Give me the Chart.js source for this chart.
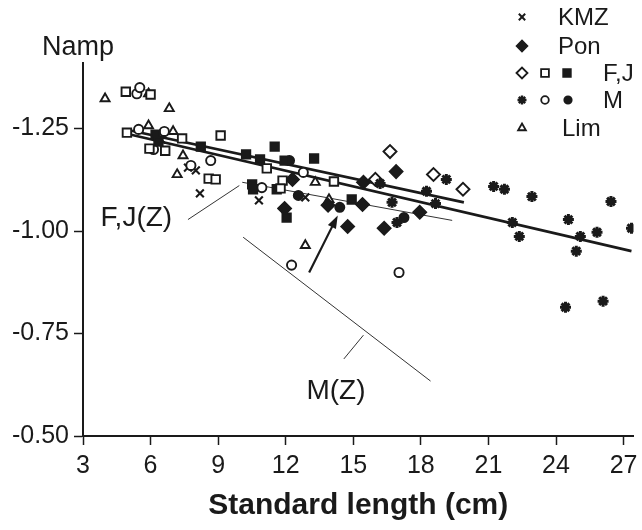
<!DOCTYPE html>
<html>
<head>
<meta charset="utf-8">
<script src="https://cdn.jsdelivr.net/npm/chart.js@4.4.1/dist/chart.umd.min.js"></script>
<style>
  html, body { margin: 0; padding: 0; background: #fff; }
  #wrap { width: 642px; height: 530px; }
</style>
</head>
<body>
<div id="wrap"><canvas id="chart" width="642" height="530"></canvas></div>
<script>
// axis ticks
const xTicks = [3, 6, 9, 12, 15, 18, 21, 24, 27];
const yTicks = [-1.25, -1.00, -0.75, -0.50];

// standard length (cm) and Namp
const kmzX = [6.48, 7.66, 8.01, 8.19, 10.81, 12.87];
const kmzY = [-1.223, -1.155, -1.148, -1.092, -1.075, -1.082];

const ponX = [12.30, 11.95, 13.88, 14.75, 15.41, 15.45, 16.37, 16.90, 17.95];
const ponY = [-1.126, -1.055, -1.063, -1.011, -1.065, -1.119, -1.007, -1.145, -1.046];

const fjDiaX = [15.98, 16.63, 18.56, 19.87];
const fjDiaY = [-1.126, -1.194, -1.138, -1.102];

const fjSqX = [4.90, 6.00, 4.95, 7.40, 5.95, 6.65, 8.58, 8.89, 9.11, 11.16, 11.86, 11.77, 14.14];
const fjSqY = [-1.340, -1.333, -1.240, -1.226, -1.201, -1.196, -1.128, -1.126, -1.233, -1.153, -1.123, -1.104, -1.121];

const fjFillX = [6.22, 6.35, 8.23, 10.24, 10.86, 11.51, 11.95, 13.26, 10.51, 10.55, 11.60, 12.04, 14.93];
const fjFillY = [-1.235, -1.218, -1.206, -1.187, -1.175, -1.206, -1.172, -1.177, -1.114, -1.102, -1.102, -1.033, -1.077];

const mStarX = [16.19, 16.72, 16.94, 18.25, 18.65, 19.13, 21.23, 21.71, 22.93, 22.06, 22.37, 24.55, 25.08, 25.82, 24.90, 26.44, 27.35, 24.42, 26.09];
const mStarY = [-1.116, -1.070, -1.021, -1.097, -1.067, -1.126, -1.109, -1.102, -1.084, -1.021, -0.987, -1.028, -0.987, -0.997, -0.951, -1.072, -1.007, -0.814, -0.829];

const mOpenX = [5.39, 5.52, 5.47, 6.61, 6.13, 7.79, 8.67, 10.94, 12.78, 12.26, 17.03];
const mOpenY = [-1.335, -1.350, -1.248, -1.243, -1.199, -1.160, -1.172, -1.106, -1.143, -0.917, -0.899];

const mFillX = [12.17, 12.56, 14.40, 17.25];
const mFillY = [-1.172, -1.087, -1.058, -1.033];

const limX = [3.98, 5.91, 6.83, 5.91, 7.00, 7.44, 7.18, 13.31, 13.92, 12.87];
const limY = [-1.323, -1.335, -1.299, -1.257, -1.243, -1.184, -1.138, -1.119, -1.077, -0.965];

// fitted lines (end points)
const longLineX = [4.90, 27.35];
const longLineY = [-1.238, -0.951];
const shortLineX = [4.90, 19.91];
const shortLineY = [-1.248, -1.070];
const fjzLineX = [10.07, 19.39];
const fjzLineY = [-1.119, -1.026];
const mzLineX = [10.11, 18.43];
const mzLineY = [-0.985, -0.634];

const ink = '#1a1a1a';
const font = 'Liberation Sans, Arial, Helvetica, sans-serif';

const pts = (xs, ys) => xs.map((v, i) => ({ x: v, y: ys[i] }));

function marks(data, style, radius, filled, bw) {
  return {
    data: data,
    pointStyle: style,
    pointRadius: radius,
    pointHoverRadius: radius,
    pointBorderWidth: bw,
    borderColor: ink,
    backgroundColor: filled ? ink : '#fff',
    showLine: false,
    order: 1
  };
}

function fitLine(data, width, color) {
  return {
    data: data,
    showLine: true,
    borderColor: color || ink,
    borderWidth: width,
    pointRadius: 0,
    fill: false,
    order: 5
  };
}

// labels, leader lines and arrow, placed in data units
const notes = {
  id: 'notes',
  afterDatasetsDraw(chart) {
    const { ctx } = chart;
    const sx = chart.scales.x, sy = chart.scales.y;
    const P = (a, b) => [sx.getPixelForValue(a), sy.getPixelForValue(b)];
    ctx.save();
    ctx.strokeStyle = '#333';
    ctx.fillStyle = ink;
    ctx.lineWidth = 1;

    // leader lines
    [[7.66, -1.028, 9.94, -1.111], [14.58, -0.688, 15.45, -0.746]].forEach(l => {
      const a = P(l[0], l[1]), b = P(l[2], l[3]);
      ctx.beginPath();
      ctx.moveTo(a[0], a[1]);
      ctx.lineTo(b[0], b[1]);
      ctx.stroke();
    });

    // arrow
    const t = P(13.04, -0.899), h = P(14.31, -1.038);
    const ang = Math.atan2(h[1] - t[1], h[0] - t[0]);
    ctx.strokeStyle = ink;
    ctx.lineWidth = 2.2;
    ctx.beginPath();
    ctx.moveTo(t[0], t[1]);
    ctx.lineTo(h[0] - 8 * Math.cos(ang), h[1] - 8 * Math.sin(ang));
    ctx.stroke();
    ctx.beginPath();
    ctx.moveTo(h[0], h[1]);
    ctx.lineTo(h[0] - 13 * Math.cos(ang) + 4.5 * Math.sin(ang), h[1] - 13 * Math.sin(ang) - 4.5 * Math.cos(ang));
    ctx.lineTo(h[0] - 13 * Math.cos(ang) - 4.5 * Math.sin(ang), h[1] - 13 * Math.sin(ang) + 4.5 * Math.cos(ang));
    ctx.closePath();
    ctx.fill();

    // group labels
    ctx.font = '28px ' + font;
    ctx.textAlign = 'center';
    ctx.textBaseline = 'middle';
    let p = P(5.37, -1.032);
    ctx.fillText('F,J(Z)', p[0], p[1]);
    p = P(14.23, -0.610);
    ctx.fillText('M(Z)', p[0], p[1]);
    ctx.restore();
  },
  afterDraw(chart) {
    const { ctx } = chart;
    const dp = Chart.helpers.drawPoint;
    ctx.save();
    ctx.fillStyle = ink;
    ctx.font = '27px ' + font;
    ctx.textBaseline = 'alphabetic';
    ctx.fillText('Namp', 42, 55);

    // legend
    const sym = (style, r, filled, x, y, bw) => {
      ctx.lineWidth = bw || 1.6;
      ctx.strokeStyle = ink;
      ctx.fillStyle = filled ? ink : '#fff';
      dp(ctx, { pointStyle: style, radius: r, borderWidth: ctx.lineWidth, rotation: 0 }, x, y);
    };
    sym('crossRot', 4.5, false, 522, 17, 2);
    sym('rectRot', 5.5, true, 522, 46);
    sym('rectRot', 5.5, false, 522, 73, 1.8);
    sym('rect', 5.5, false, 545, 73, 1.8);
    sym('rect', 5.5, true, 567, 73);
    sym('star', 4.5, false, 522, 100, 2.4);
    sym('circle', 3.8, false, 545, 100, 1.8);
    sym('circle', 3.8, true, 568, 100);
    sym('triangle', 4.5, false, 522, 128, 1.8);

    ctx.fillStyle = ink;
    ctx.font = '24px ' + font;
    ctx.textAlign = 'left';
    ctx.textBaseline = 'middle';
    ctx.fillText('KMZ', 558, 18);
    ctx.fillText('Pon', 558, 47);
    ctx.fillText('F,J', 603, 74);
    ctx.fillText('M', 603, 101);
    ctx.fillText('Lim', 562, 129);
    ctx.restore();
  }
};

new Chart(document.getElementById('chart'), {
  type: 'scatter',
  data: {
    datasets: [
      fitLine(pts(longLineX, longLineY), 2.6),
      fitLine(pts(shortLineX, shortLineY), 2.6),
      fitLine(pts(fjzLineX, fjzLineY), 1, '#333'),
      fitLine(pts(mzLineX, mzLineY), 1, '#333'),
      marks(pts(mStarX, mStarY), 'star', 5.5, false, 3),
      marks(pts(fjSqX, fjSqY), 'rect', 6, false, 1.9),
      marks(pts(fjFillX, fjFillY), 'rect', 6, true, 1.8),
      marks(pts(fjDiaX, fjDiaY), 'rectRot', 6.5, false, 1.9),
      marks(pts(ponX, ponY), 'rectRot', 6.5, true, 1.8),
      marks(pts(mOpenX, mOpenY), 'circle', 4.6, false, 1.9),
      marks(pts(mFillX, mFillY), 'circle', 4.6, true, 1.8),
      marks(pts(limX, limY), 'triangle', 5.2, false, 1.9),
      marks(pts(kmzX, kmzY), 'crossRot', 5.5, false, 2.1)
    ]
  },
  options: {
    responsive: false,
    animation: false,
    devicePixelRatio: 1,
    layout: { padding: { top: 63, right: 0, left: 0, bottom: 0 } },
    plugins: {
      legend: { display: false },
      tooltip: { enabled: false }
    },
    scales: {
      x: {
        type: 'linear',
        position: 'bottom',
        min: 3,
        max: 27.44,
        afterBuildTicks: s => { s.ticks = xTicks.map(v => ({ value: v })); },
        afterFit: s => { s.height = 94; s.paddingLeft = 0; s.paddingRight = 0; },
        ticks: { color: ink, font: { family: font, size: 25 }, padding: 6, maxRotation: 0, autoSkip: false },
        grid: { drawOnChartArea: false, drawTicks: true, tickLength: 9, tickWidth: 1.5, tickColor: ink },
        border: { display: true, color: ink, width: 2 },
        title: {
          display: true,
          text: 'Standard length (cm)',
          color: ink,
          font: { family: font, size: 30, weight: 'bold' },
          padding: { top: 0, bottom: 6 }
        }
      },
      y: {
        type: 'linear',
        reverse: true,
        min: -1.41,
        max: -0.5,
        afterBuildTicks: s => { s.ticks = yTicks.map(v => ({ value: v })); },
        afterFit: s => { s.width = 83; s.paddingTop = 0; s.paddingBottom = 0; },
        ticks: { color: ink, font: { family: font, size: 25 }, padding: 5, callback: v => v.toFixed(2) },
        grid: { drawOnChartArea: false, drawTicks: true, tickLength: 9, tickWidth: 1.5, tickColor: ink },
        border: { display: true, color: ink, width: 2 }
      }
    }
  },
  plugins: [notes]
});
</script>
</body>
</html>
